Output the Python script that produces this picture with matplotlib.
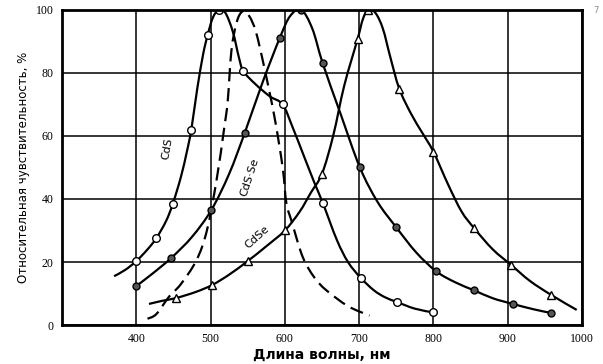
import numpy as np
import matplotlib.pyplot as plt
from matplotlib.path import Path
from matplotlib.patches import PathPatch

# CdS (open circles)
cds_x = [400, 427, 449, 474, 496, 511, 544, 597, 651, 702, 751, 800]
cds_y = [20.3, 27.6, 38.4, 62, 92, 100, 80.6, 70, 38.8, 15, 7.3, 4]
cds_line_x = [370, 385, 400, 415, 427, 440, 449, 460, 468, 474, 482, 490, 496, 503, 511,
              520, 530, 538, 544, 560, 580, 597, 610, 625, 640, 651, 670, 685, 702, 720,
              735, 751, 775, 800]
cds_line_y = [15.5, 17.5, 20.3, 24, 27.6, 33, 38.4, 47, 55, 62, 75, 86, 92, 97.5, 100,
              99, 93, 85, 80.6, 76.5, 72.5, 70, 63, 54, 45, 38.8, 27, 20, 15, 11,
              8.8, 7.3, 5.2, 4]

# CdS-Se (filled circles)
cdsse_x = [400, 447, 501, 546, 593, 622, 651, 701, 750, 804, 855, 907, 959]
cdsse_y = [12.4, 21.3, 36.5, 61, 91, 100, 83, 50, 31, 17, 11, 6.7, 3.8]
cdsse_line_x = [400, 420, 447, 475, 501, 525, 546, 570, 593, 607, 622, 637, 651, 675, 701,
                725, 750, 777, 804, 830, 855, 880, 907, 935, 959]
cdsse_line_y = [12.4, 16, 21.3, 28, 36.5, 48, 61, 77, 91, 98, 100, 94, 83, 67, 50,
                39, 31, 23, 17, 13.5, 11, 8.5, 6.7, 5, 3.8]

# CdSe (triangles)
cdse_x = [454, 502, 550, 600, 650, 698, 712, 754, 800, 855, 905, 959]
cdse_y = [8.6, 12.7, 20.3, 30, 48, 90.8, 100, 75, 55, 30.7, 19, 9.5]
cdse_line_x = [417, 435, 454, 480, 502, 525, 550, 575, 600, 620, 635, 650, 665, 680, 698,
               705, 712, 722, 732, 742, 754, 770, 785, 800, 820, 838, 855, 880, 905, 930,
               959, 993]
cdse_line_y = [6.7, 7.7, 8.6, 10.5, 12.7, 16, 20.3, 25, 30, 36, 42, 48, 60, 76, 90.8,
               97, 100, 99, 94, 85, 75, 67, 61, 55, 44.5, 36, 30.7, 24, 19, 14,
               9.5, 4.8]

# dashed curve
dash_x = [415, 427, 444, 460, 481, 495, 508, 518, 523, 528, 535, 543, 552, 561, 572,
          586, 597, 602, 609, 624, 640, 656, 685, 714]
dash_y = [2, 3.5, 9, 13, 20.6, 30, 46, 62, 71, 87, 96, 99.5, 98, 93, 82,
          66, 50, 38.7, 33, 21.6, 15, 11, 6, 3]

x_ticks = [400, 500, 600, 700, 800, 900, 1000]
y_ticks = [0, 20, 40, 60, 80, 100]


def smooth_path(xs, ys):
    # Catmull-Rom through the read points, drawn as cubic Bezier segments
    p = np.column_stack([xs, ys]).astype(float)
    verts = [p[0]]
    codes = [Path.MOVETO]
    n = len(p)
    for i in range(n - 1):
        p0 = p[i - 1] if i > 0 else p[i]
        p3 = p[i + 2] if i + 2 < n else p[i + 1]
        c1 = p[i] + (p[i + 1] - p0) / 6
        c2 = p[i + 1] - (p3 - p[i]) / 6
        verts += [c1, c2, p[i + 1]]
        codes += [Path.CURVE4] * 3
    return Path(verts, codes)


fig = plt.figure(figsize=(6.03, 3.64), dpi=100)
ax = fig.add_axes([0.103, 0.107, 0.862, 0.866])

lw = 1.6
ax.add_patch(PathPatch(smooth_path(cds_line_x, cds_line_y), fc="none", ec="black", lw=lw))
ax.plot(cds_x, cds_y, "o", ms=5.5, mfc="white", mec="black", mew=1.0)

ax.add_patch(PathPatch(smooth_path(cdsse_line_x, cdsse_line_y), fc="none", ec="black", lw=lw))
ax.plot(cdsse_x, cdsse_y, "o", ms=5, mfc="#555555", mec="black", mew=1.0)

ax.add_patch(PathPatch(smooth_path(cdse_line_x, cdse_line_y), fc="none", ec="black", lw=lw))
ax.plot(cdse_x, cdse_y, "^", ms=6, mfc="white", mec="black", mew=1.0)

ax.add_patch(PathPatch(smooth_path(dash_x, dash_y), fc="none", ec="black", lw=lw,
                       ls=(0, (6, 3))))

ax.text(442, 56, "CdS", rotation=80, fontsize=8, ha="center", va="center")
ax.text(553, 47, "CdS·Se", rotation=72, fontsize=8, ha="center", va="center")
ax.text(563, 28, "CdSe", rotation=42, fontsize=8, ha="center", va="center")

ax.set_xlim(300, 1000)
ax.set_ylim(0, 100)
ax.set_xticks(x_ticks)
ax.set_yticks(y_ticks)
ax.tick_params(length=0, labelsize=8.5, pad=6)
for lab in ax.get_xticklabels() + ax.get_yticklabels():
    lab.set_family("Liberation Serif")
ax.grid(True, color="black", lw=1.1)
for s in ax.spines.values():
    s.set_linewidth(2)

ax.set_xlabel("Длина волны, нм", fontsize=10, fontweight="bold", labelpad=2)
ax.set_ylabel("Относительная чувствительность, %", fontsize=8.5, labelpad=4)
fig.text(0.993, 0.965, "7", fontsize=6, color="#888888", ha="right")

fig.savefig("out.png", dpi=100)
